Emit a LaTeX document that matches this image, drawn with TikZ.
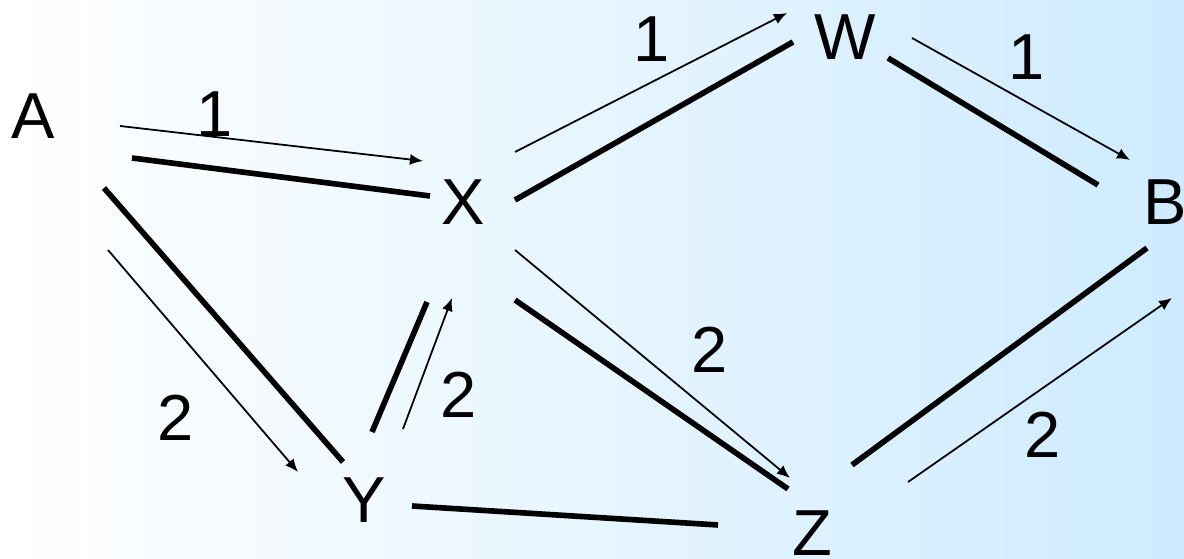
\documentclass[tikz,border=0pt]{standalone}
\usepackage{fontspec}
\setmainfont{Liberation Sans}
\usetikzlibrary{arrows.meta}
\definecolor{Sky}{HTML}{CEEBFF}
\definecolor{Ink}{HTML}{000000}
\tikzset{
  vert/.style={font=\fontsize{18.5}{22}\selectfont, inner sep=0pt, text=Ink},
  weight/.style={font=\fontsize{18.5}{22}\selectfont, inner sep=0pt, text=Ink},
  edge/.style={Ink, line width=1.6pt},
  flow/.style={Ink, line width=0.5pt, -{Latex[length=1.3mm,width=1.1mm]}}
}

\begin{document}
\begin{tikzpicture}[x=0.01cm, y=-0.01cm]
        \useasboundingbox (0,0) rectangle (1184,559);
        \shade[left color=white, right color=Sky] (0,0) rectangle (1184,559);
        % vertices
        \node[vert] (A) at (33,116) {A};
        \node[vert] (X) at (463,202) {X};
        \node[vert] (Y) at (364,500) {Y};
        \node[vert] (W) at (845,37) {W};
        \node[vert] (Z) at (812,533) {Z};
        \node[vert] (B) at (1165,202) {B};
        % end points of the edges
        \coordinate (ax1) at (132,158);  \coordinate (ax2) at (430,196);
        \coordinate (ay1) at (104,188);  \coordinate (ay2) at (343,462);
        \coordinate (yx1) at (372,432);  \coordinate (yx2) at (427,302);
        \coordinate (yz1) at (412,506);  \coordinate (yz2) at (718,525);
        \coordinate (xw1) at (515,200);  \coordinate (xw2) at (793,42);
        \coordinate (xz1) at (515,300);  \coordinate (xz2) at (788,489);
        \coordinate (wb1) at (888,58);   \coordinate (wb2) at (1098,185);
        \coordinate (zb1) at (852,465);  \coordinate (zb2) at (1147,248);
        % end points of the flows
        \coordinate (fax1) at (120,126); \coordinate (fax2) at (423,161);
        \coordinate (fay1) at (108,250); \coordinate (fay2) at (298,472);
        \coordinate (fyx1) at (403,429); \coordinate (fyx2) at (452,298);
        \coordinate (fxw1) at (515,152); \coordinate (fxw2) at (787,13);
        \coordinate (fwb1) at (912,38);  \coordinate (fwb2) at (1130,160);
        \coordinate (fxz1) at (515,250); \coordinate (fxz2) at (790,478);
        \coordinate (fzb1) at (908,482); \coordinate (fzb2) at (1172,298);
        % edges
        \draw[edge] (ax1) -- (ax2);
        \draw[edge] (ay1) -- (ay2);
        \draw[edge] (yx1) -- (yx2);
        \draw[edge] (yz1) -- (yz2);
        \draw[edge] (xw1) -- (xw2);
        \draw[edge] (xz1) -- (xz2);
        \draw[edge] (wb1) -- (wb2);
        \draw[edge] (zb1) -- (zb2);
        % flows
        \draw[flow] (fax1) -- (fax2);
        \draw[flow] (fay1) -- (fay2);
        \draw[flow] (fyx1) -- (fyx2);
        \draw[flow] (fxw1) -- (fxw2);
        \draw[flow] (fwb1) -- (fwb2);
        \draw[flow] (fxz1) -- (fxz2);
        \draw[flow] (fzb1) -- (fzb2);
        % weights
        \node[weight] (wax) at (215,114) {1};
        \node[weight] (wxw) at (652,39) {1};
        \node[weight] (wwb) at (1027,57) {1};
        \node[weight] (way) at (176,418) {2};
        \node[weight] (wyx) at (459,395) {2};
        \node[weight] (wxz) at (710,350) {2};
        \node[weight] (wzb) at (1043,435) {2};
\end{tikzpicture}
\end{document}
